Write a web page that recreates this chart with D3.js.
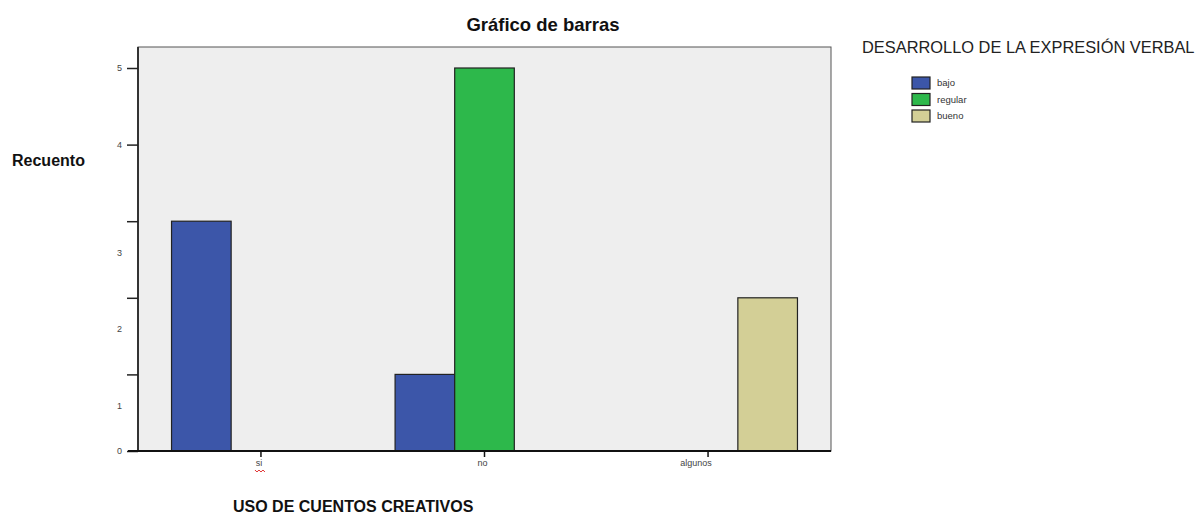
<!DOCTYPE html>
<html>
<head>
<meta charset="utf-8">
<script src="https://cdn.jsdelivr.net/npm/d3@7"></script>
<style>
  body { margin: 0; background: #fff; }
  svg { font-family: "Liberation Sans", Arial, sans-serif; }
</style>
</head>
<body>
<div id="chart"></div>
<script>
var categories = ['si', 'no', 'algunos'];
var seriesNames = ['bajo', 'regular', 'bueno'];
var seriesColors = ['#3c56a9', '#2db84b', '#d3cf96'];
var bajo = [3, 1, 0];
var regular = [0, 5, 0];
var bueno = [0, 0, 2];
var yTicks = [0, 1, 2, 3, 4, 5];

var series = [bajo, regular, bueno];

var svg = d3.select('#chart')
            .append('svg')
            .attr('width', 1197)
            .attr('height', 516);

var plotLeft = 138, plotRight = 831, plotTop = 47, plotBottom = 451;

// plot background
svg.append('rect')
   .attr('x', plotLeft).attr('y', plotTop)
   .attr('width', plotRight - plotLeft).attr('height', plotBottom - plotTop)
   .attr('fill', '#eeeeee')
   .attr('stroke', '#555').attr('stroke-width', 1);

var x = d3.scaleBand()
          .domain(categories)
          .range([plotLeft, plotRight])
          .paddingInner(0.2)
          .paddingOuter(0.15);

var xs = d3.scaleBand()
           .domain(seriesNames)
           .range([0, x.bandwidth()]);

var y = d3.scaleLinear()
          .domain([0, 5])
          .range([plotBottom, 68]);

// bars
series.forEach(function(vals, si) {
	svg.append('g').selectAll('rect')
	   .data(vals.map(function(v, i) { return { cat: categories[i], value: v }; })
	             .filter(function(d) { return d.value > 0; }))
	   .enter()
	   .append('rect')
	   .attr('x', function(d) { return x(d.cat) + xs(seriesNames[si]); })
	   .attr('y', function(d) { return y(d.value); })
	   .attr('width', xs.bandwidth())
	   .attr('height', function(d) { return plotBottom - y(d.value); })
	   .attr('fill', seriesColors[si])
	   .attr('stroke', '#222')
	   .attr('stroke-width', 1.2);
});

// left border line
svg.append('line')
   .attr('x1', plotLeft).attr('x2', plotLeft).attr('y1', plotTop).attr('y2', plotBottom)
   .attr('stroke', '#333').attr('stroke-width', 2);

// y axis
var yAxis = svg.append('g')
               .attr('transform', 'translate(' + plotLeft + ',0)')
               .call(d3.axisLeft(y).tickValues(yTicks).tickSize(11).tickFormat(d3.format('d')));
yAxis.select('.domain').remove();
yAxis.selectAll('line').attr('stroke', '#222').attr('stroke-width', 1.5);
yAxis.selectAll('text')
     .attr('fill', '#444')
     .attr('font-size', 9)
     .attr('x', -16)
     .attr('dy', function(d) { return (d >= 1 && d <= 3) ? 34 : '0.32em'; });

// x axis
var xAxis = svg.append('g')
               .attr('transform', 'translate(0,' + plotBottom + ')')
               .call(d3.axisBottom(x).tickSize(6).tickSizeOuter(0));
xAxis.select('.domain')
     .attr('d', 'M' + (plotLeft - 10) + ',0H' + plotRight)
     .attr('stroke', '#111').attr('stroke-width', 2);
xAxis.selectAll('line').attr('stroke', '#111').attr('stroke-width', 1.5);
xAxis.selectAll('text')
     .attr('fill', '#444')
     .attr('font-size', 9)
     .attr('y', 9)
     .attr('dx', function(d) { return d === 'algunos' ? -12 : -2; });

// squiggle under "si"
var siX = x('si') + x.bandwidth() / 2 - 6;
svg.append('path')
   .attr('d', 'M' + siX + ',470 l2,2 l2,-2 l2,2 l2,-2 l2,2')
   .attr('fill', 'none').attr('stroke', '#e03030').attr('stroke-width', 1);

// titles
svg.append('text')
   .attr('x', 543).attr('y', 31)
   .attr('text-anchor', 'middle')
   .attr('font-size', 18.5).attr('font-weight', 'bold')
   .attr('fill', '#111')
   .text('Gráfico de barras');

svg.append('text')
   .attr('x', 12).attr('y', 166)
   .attr('font-size', 16).attr('font-weight', 'bold')
   .attr('fill', '#111')
   .text('Recuento');

svg.append('text')
   .attr('x', 233).attr('y', 512)
   .attr('font-size', 16).attr('font-weight', 'bold')
   .attr('fill', '#111')
   .text('USO DE CUENTOS CREATIVOS');

// legend
svg.append('text')
   .attr('x', 862).attr('y', 53)
   .attr('font-size', 16.4)
   .attr('fill', '#222')
   .text('DESARROLLO DE LA EXPRESIÓN VERBAL');

var legend = svg.append('g').selectAll('g')
                .data(seriesNames)
                .enter()
                .append('g')
                .attr('transform', function(d, i) { return 'translate(912,' + (77 + i * 16.5) + ')'; });

legend.append('rect')
      .attr('width', 18).attr('height', 12)
      .attr('fill', function(d, i) { return seriesColors[i]; })
      .attr('stroke', '#222').attr('stroke-width', 1.2);

legend.append('text')
      .attr('x', 25).attr('y', 9)
      .attr('font-size', 9.5)
      .attr('fill', '#333')
      .text(function(d) { return d; });
</script>
</body>
</html>
